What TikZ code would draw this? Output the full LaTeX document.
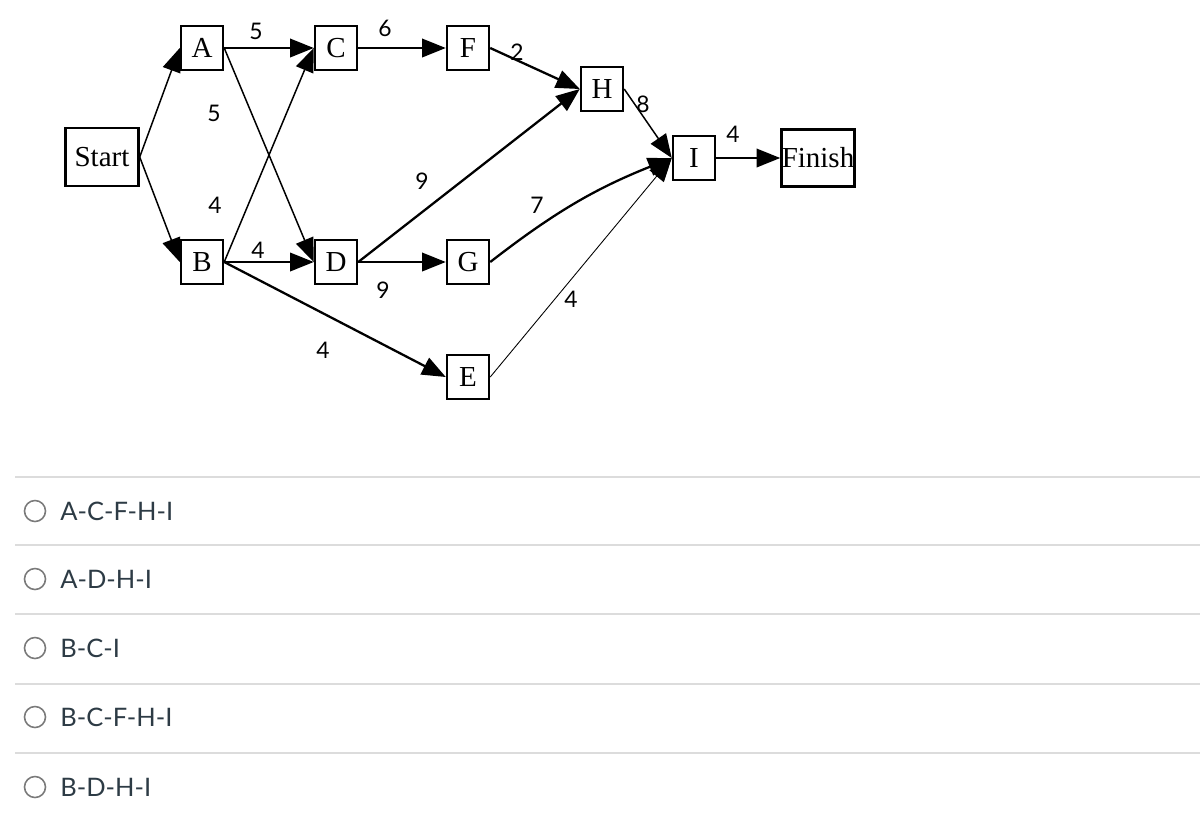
\documentclass[tikz,border=0pt]{standalone}
\usepackage{fontspec}
\setmainfont{Liberation Serif}
\newfontfamily\latofont{Lato}
\usepackage{xcolor}
\usetikzlibrary{arrows.meta}
\definecolor{optink}{HTML}{2D3B45}
\definecolor{rulegray}{HTML}{DCDCDC}
\definecolor{radiogray}{HTML}{7A7A7A}

\begin{document}
\begin{tikzpicture}[x=0.02cm,y=-0.02cm]
\tikzstyle{every node}=[inner sep=0pt]
\tikzstyle{act}=[draw,line width=1.4pt,minimum width=0.84cm,minimum height=0.88cm,font=\fontsize{16.5}{16.5}\selectfont]
\tikzstyle{wt}=[font=\latofont\fontsize{13}{13}\selectfont]
\tikzstyle{tip}=[-{Triangle[length=13.5pt,width=10.5pt]}]
\tikzstyle{heavy}=[tip,line width=1.3pt]
\tikzstyle{light}=[tip,line width=0.85pt]
\tikzstyle{choice}=[anchor=west,text=optink,font=\latofont\fontsize{14.5}{14.5}\selectfont]
\useasboundingbox (0,0) rectangle (1200,826);
% activity boxes
\node[act,minimum width=1.46cm,minimum height=1.16cm] (start) at (102,157) {Start};
\node[act] (a) at (202,48) {A};
\node[act] (b) at (202,262) {B};
\node[act] (c) at (336,48) {C};
\node[act] (d) at (336,262) {D};
\node[act] (f) at (468,48) {F};
\node[act] (g) at (468,262) {G};
\node[act] (e) at (468,377) {E};
\node[act] (h) at (602,89) {H};
\node[act] (i) at (694,158) {I};
\node[act,minimum width=1.46cm,minimum height=1.14cm] (finish) at (818,158) {Finish};
% connectors
\draw[light] (start.east) -- (a.west);
\draw[light] (start.east) -- (b.west);
\draw[heavy] (a.east) -- (c.west);
\draw[light] (a.east) -- (d.west);
\draw[light] (b.east) -- (c.west);
\draw[heavy] (b.east) -- (d.west);
\draw[heavy] (b.east) -- (e.west);
\draw[heavy] (c.east) -- (f.west);
\draw[heavy] (d.east) -- (h.west);
\draw[heavy] (d.east) -- (g.west);
\draw[heavy] (f.east) -- (h.west);
\draw[light] (h.east) -- (i.west);
\draw[heavy] (g.east) to[bend left=8] (i.west);
\draw[tip,line width=0.5pt] (e.east) -- (i.west);
\draw[heavy] (i.east) -- (finish.west);
% durations
\node[wt] (wac) at (256,31) {5};
\node[wt] (wcf) at (385,28) {6};
\node[wt] (wad) at (214,113) {5};
\node[wt] (wbc) at (215,205) {4};
\node[wt] (wbd) at (258,250) {4};
\node[wt] (wdh) at (422,181) {9};
\node[wt] (wdg) at (383,290) {9};
\node[wt] (wbe) at (323,350) {4};
\node[wt] (wfh) at (517,52) {2};
\node[wt] (whi) at (643,104) {8};
\node[wt] (wif) at (733,134) {4};
\node[wt] (wgi) at (537,205) {7};
\node[wt] (wei) at (571,299) {4};
% answer choices
\foreach \yy in {477,545,614,684,753}
  \draw[rulegray,line width=1.2pt] (15,\yy) -- (1200,\yy);
\foreach \yy/\txt [count=\k] in {511/A-C-F-H-I,579/A-D-H-I,648/B-C-I,717/B-C-F-H-I,787/B-D-H-I}{
  \node[draw=radiogray,line width=0.9pt,circle,minimum size=0.42cm] (radio\k) at (35,\yy) {};
  \node[choice] (opt\k) at (60,\yy) {\txt};
}
\end{tikzpicture}
\end{document}
